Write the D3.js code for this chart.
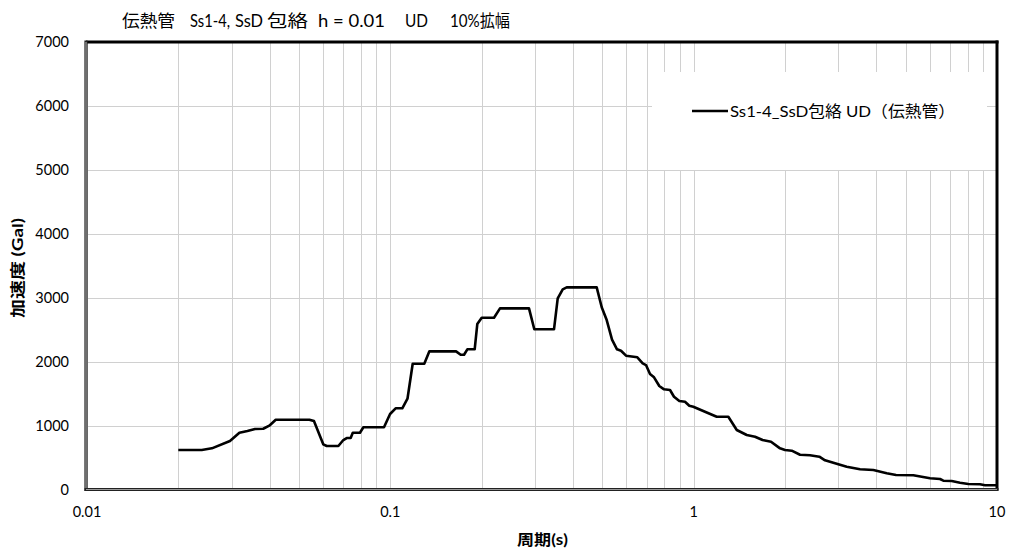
<!DOCTYPE html>
<html>
<head>
<meta charset="utf-8">
<script src="https://cdn.jsdelivr.net/npm/d3@7"></script>
<style>
  html, body { margin: 0; padding: 0; background: #fff; }
  text { font-family: 'Lato', 'Noto Sans CJK JP', sans-serif; fill: #000; }
</style>
</head>
<body>
<div id="chart"></div>
<script>
// 周期 (s)
const periods = [
  0.02, 0.0239, 0.0258, 0.0296, 0.0318, 0.0338, 0.0358, 0.0381, 0.0399, 0.0419,
  0.0541, 0.056, 0.0601, 0.0617, 0.0674, 0.07, 0.0718, 0.074, 0.0752, 0.0794,
  0.0815, 0.0953, 0.0998, 0.1041, 0.1095, 0.1139, 0.1185, 0.1294, 0.1345, 0.1647,
  0.1706, 0.175, 0.1794, 0.1897, 0.1935, 0.2001, 0.2197, 0.2299, 0.2865, 0.2983,
  0.3464, 0.3563, 0.3701, 0.3814, 0.479, 0.4976, 0.5168, 0.5381, 0.5588, 0.5761,
  0.5984, 0.6521, 0.6792, 0.6964, 0.7179, 0.7402, 0.7703, 0.7986, 0.8356, 0.8614,
  0.8969, 0.9363, 0.9674, 0.9972, 1.191, 1.301, 1.387, 1.496, 1.593, 1.687,
  1.799, 1.926, 2.0, 2.105, 2.242, 2.418, 2.596, 2.71, 2.999, 3.196,
  3.535, 3.911, 4.33, 4.647, 5.298, 6.016, 6.489, 6.653, 7.091, 7.552,
  8.043, 8.79, 9.131, 10
]
// 加速度 (Gal)
const accel = [
  618, 618, 644, 759, 888, 915, 946, 950, 998, 1092,
  1092, 1070, 707, 680, 680, 774, 805, 805, 888, 888,
  973, 973, 1181, 1270, 1270, 1420, 1968, 1968, 2161, 2161,
  2108, 2108, 2193, 2193, 2588, 2687, 2687, 2834, 2834, 2506,
  2506, 2990, 3131, 3162, 3162, 2850, 2650, 2345, 2193, 2171,
  2093, 2068, 1974, 1947, 1806, 1755, 1619, 1567, 1556, 1451,
  1384, 1373, 1311, 1295, 1139, 1139, 931, 852, 826, 774,
  748, 644, 618, 607, 544, 535, 513, 457, 394, 357,
  316, 305, 253, 227, 222, 175, 164, 138, 133, 106,
  86, 81, 66, 66
]
const yTicks = [0, 1000, 2000, 3000, 4000, 5000, 6000, 7000]
const xTicks = [0.01, 0.1, 1, 10]

// タイトルの各語 (Excel の空白を再現するため語ごとに配置)
const titleParts = ['伝熱管', 'Ss1-4,', 'SsD', '包絡', 'h = 0.01', 'UD', '10%拡幅']
const titleX = [122, 190, 235, 267, 318, 405, 450]
const titleW = [53, 40, 28, 41, 67, 23, 60]
const legendText = 'Ss1-4_SsD包絡 UD（伝熱管）'

const width = 1011
const height = 552
const margin = { top: 42, right: 14, bottom: 62.5, left: 87 }
const plotW = width - margin.left - margin.right
const plotH = height - margin.top - margin.bottom

const svg = d3.select('#chart')
  .append('svg')
  .attr('width', width)
  .attr('height', height)

const g = svg.append('g')
  .attr('transform', `translate(${margin.left}, ${margin.top})`)

// 比例尺
const xScale = d3.scaleLog().domain([0.01, 10]).range([0, plotW])
const yScale = d3.scaleLinear().domain([0, 7000]).range([plotH, 0])

// 縦グリッド (対数)
const minorX = []
for (let d = 0.01; d < 10; d *= 10) {
  for (let k = 1; k <= 9; k++) minorX.push(+(d * k).toPrecision(3))
}
g.append('g').selectAll('line')
  .data(minorX)
  .join('line')
  .attr('x1', d => Math.round(xScale(d)) + 0.5)
  .attr('x2', d => Math.round(xScale(d)) + 0.5)
  .attr('y1', 0)
  .attr('y2', plotH)
  .attr('stroke', '#d0d0d0')
  .attr('stroke-width', 1)

// 横グリッド
g.append('g').selectAll('line')
  .data(yTicks)
  .join('line')
  .attr('x1', 0)
  .attr('x2', plotW)
  .attr('y1', d => Math.round(yScale(d)) + 0.5)
  .attr('y2', d => Math.round(yScale(d)) + 0.5)
  .attr('stroke', '#d0d0d0')
  .attr('stroke-width', 1)

// 凡例の背景 (グリッドを隠す)
const legendBox = { x: 652 - margin.left, y: 72 - margin.top, w: 335, h: 98 }
g.append('rect')
  .attr('x', legendBox.x)
  .attr('y', legendBox.y)
  .attr('width', legendBox.w)
  .attr('height', legendBox.h)
  .attr('fill', '#fff')

// 応答スペクトル
const line = d3.line()
  .x((d, i) => xScale(periods[i]))
  .y(d => yScale(d))
g.append('path')
  .datum(accel)
  .attr('d', line)
  .attr('fill', 'none')
  .attr('stroke', '#000')
  .attr('stroke-width', 2.6)
  .attr('stroke-linejoin', 'round')

// 枠線: 上と右は太線、左と下は二重線風
g.append('line')
  .attr('x1', -1).attr('x2', plotW + 1.5)
  .attr('y1', 0).attr('y2', 0)
  .attr('stroke', '#000').attr('stroke-width', 3)
g.append('line')
  .attr('x1', plotW).attr('x2', plotW)
  .attr('y1', -1.5).attr('y2', plotH + 1)
  .attr('stroke', '#000').attr('stroke-width', 3)
g.append('line')
  .attr('x1', -1).attr('x2', -1)
  .attr('y1', -1.5).attr('y2', plotH + 1.5)
  .attr('stroke', '#222').attr('stroke-width', 3.2)
g.append('line')
  .attr('x1', -1).attr('x2', -1)
  .attr('y1', 0).attr('y2', plotH)
  .attr('stroke', '#bbb').attr('stroke-width', 1)
g.append('line')
  .attr('x1', -2.5).attr('x2', plotW + 1.5)
  .attr('y1', plotH).attr('y2', plotH)
  .attr('stroke', '#222').attr('stroke-width', 3.2)
g.append('line')
  .attr('x1', -1).attr('x2', plotW)
  .attr('y1', plotH).attr('y2', plotH)
  .attr('stroke', '#999').attr('stroke-width', 1)

// Y 軸目盛
g.append('g').selectAll('text')
  .data(yTicks)
  .join('text')
  .attr('x', -18)
  .attr('y', d => yScale(d))
  .attr('dy', '0.35em')
  .attr('text-anchor', 'end')
  .attr('font-size', 14.5)
  .text(d => d)

// X 軸目盛
g.append('g').selectAll('text')
  .data(xTicks)
  .join('text')
  .attr('x', d => xScale(d))
  .attr('y', plotH + 27)
  .attr('text-anchor', 'middle')
  .attr('font-size', 14.5)
  .text(d => d)

// タイトル
const title = svg.append('g')
title.selectAll('text')
  .data(titleParts)
  .join('text')
  .attr('x', (d, i) => titleX[i])
  .attr('y', 27)
  .attr('font-size', 16.5)
  .attr('textLength', (d, i) => titleW[i])
  .attr('lengthAdjust', 'spacingAndGlyphs')
  .text(d => d)

// 軸タイトル
svg.append('text')
  .attr('x', 517)
  .attr('y', 545)
  .attr('font-size', 15)
  .attr('font-weight', 'bold')
  .attr('textLength', 51)
  .attr('lengthAdjust', 'spacingAndGlyphs')
  .text('周期(s)')
svg.append('text')
  .attr('transform', 'translate(23, 318) rotate(-90)')
  .attr('font-size', 15)
  .attr('font-weight', 'bold')
  .attr('textLength', 100)
  .attr('lengthAdjust', 'spacingAndGlyphs')
  .text('加速度 (Gal)')

// 凡例
svg.append('line')
  .attr('x1', 692).attr('x2', 728)
  .attr('y1', 111).attr('y2', 111)
  .attr('stroke', '#000').attr('stroke-width', 2.6)
svg.append('text')
  .attr('x', 730)
  .attr('y', 111)
  .attr('dy', '0.35em')
  .attr('font-size', 16)
  .attr('textLength', 225)
  .attr('lengthAdjust', 'spacingAndGlyphs')
  .text(legendText)
</script>
</body>
</html>
